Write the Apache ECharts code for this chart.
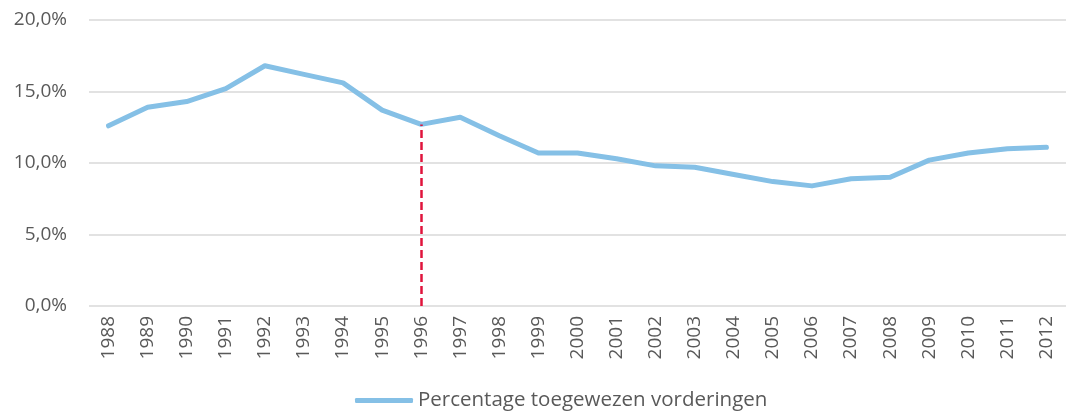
<!DOCTYPE html>
<html>
<head>
<meta charset="utf-8">
<script src="https://cdn.jsdelivr.net/npm/echarts@6/dist/echarts.min.js"></script>
<style>html,body{margin:0;padding:0;background:#fff}#main{width:1066px;height:412px}</style>
</head>
<body>
<div id="main"></div>
<script>
const years = ['1988','1989','1990','1991','1992','1993','1994','1995','1996','1997','1998','1999','2000',
  '2001','2002','2003','2004','2005','2006','2007','2008','2009','2010','2011','2012'];
const percentages = [12.6, 13.9, 14.3, 15.2, 16.8, 16.2, 15.6, 13.7, 12.7, 13.2, 11.9, 10.7, 10.7,
  10.3, 9.8, 9.7, 9.2, 8.7, 8.4, 8.9, 9.0, 10.2, 10.7, 11.0, 11.1];
const markYear = '1996';
const markValue = 12.7;
const seriesName = 'Percentage toegewezen vorderingen';

const chart = echarts.init(document.getElementById('main'));
const font = '"Open Sans", "DejaVu Sans", sans-serif';

chart.setOption({
  animation: false,
  grid: { left: 89, top: 20, width: 982, height: 286 },
  legend: {
    top: 385,
    left: 350,
    itemWidth: 58,
    itemHeight: 5,
    itemGap: 2,
    icon: 'roundRect',
    textStyle: { fontFamily: font, fontSize: 20.5, color: '#595959' },
    data: [seriesName]
  },
  xAxis: {
    type: 'category',
    data: years,
    boundaryGap: true,
    axisLine: { show: false },
    axisTick: { show: false },
    axisLabel: { rotate: 90, margin: 10, fontFamily: font, fontSize: 19, color: '#595959' }
  },
  yAxis: {
    type: 'value',
    min: 0,
    max: 20,
    interval: 5,
    axisLine: { show: false },
    axisTick: { show: false },
    splitLine: { lineStyle: { color: '#d9d9d9', width: 1.5 } },
    axisLabel: {
      margin: 22,
      fontFamily: font,
      fontSize: 19,
      color: '#595959',
      formatter: v => v.toFixed(1).replace('.', ',') + '%'
    }
  },
  series: [{
    name: seriesName,
    type: 'line',
    data: percentages,
    symbol: 'none',
    lineStyle: { color: '#85c0e6', width: 5, cap: 'round', join: 'round' },
    itemStyle: { color: '#85c0e6' },
    markLine: {
      silent: true,
      symbol: 'none',
      label: { show: false },
      lineStyle: { color: '#e0143c', type: [8, 4], width: 2.5 },
      data: [[{ coord: [markYear, 0] }, { coord: [markYear, markValue] }]]
    }
  }]
});
</script>
</body>
</html>
